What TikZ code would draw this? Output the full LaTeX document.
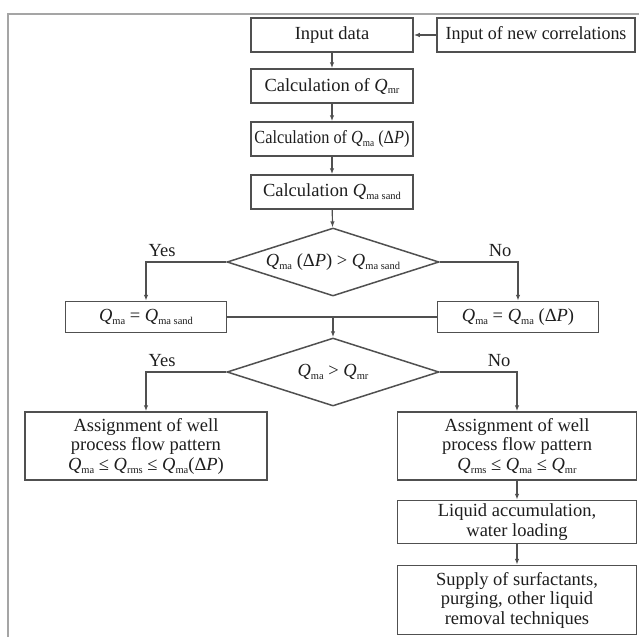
\documentclass[tikz,border=0pt]{standalone}
\usepackage{fontspec}
\setmainfont{Liberation Serif}
\usepackage{xcolor}
\usepackage{graphicx}
\usetikzlibrary{shapes.geometric, arrows.meta, positioning}

\definecolor{linegray}{RGB}{80,80,80}
\definecolor{framegray}{RGB}{165,165,165}
\definecolor{textgray}{RGB}{30,30,30}
\newcommand{\Qs}[1]{\textit{Q}\raisebox{-0.35ex}{\fontsize{10.5}{11}\selectfont #1}}

\begin{document}
\begin{tikzpicture}[x=1pt, y=-1pt,
    box/.style={draw=linegray, line width=1.5pt, fill=white, text=textgray, inner sep=2pt, align=center, font=\fontsize{18.5}{19.5}\selectfont},
    decision/.style={diamond, draw=linegray, line width=1.5pt, aspect=3.1, minimum width=212pt, minimum height=68pt, inner sep=0pt, text=textgray, font=\fontsize{18.5}{19.5}\selectfont},
    flow/.style={-{Latex[length=6pt, width=4.5pt]}, draw=linegray, line width=1.2pt},
    lbl/.style={text=textgray, font=\fontsize{18.5}{19.5}\selectfont, inner sep=2pt}]
    \useasboundingbox (0,0) rectangle (639,637);

    % Frame
    \draw[framegray, line width=2pt] (8,637) -- (8,14) -- (639,14);

    % Calculation steps
    \node[box, minimum width=162pt, minimum height=34pt] (input) at (332,35) {Input data};
    \node[box, minimum width=198pt, minimum height=34pt] (corr) at (536,35) {\scalebox{0.97}[1]{Input of new correlations}};
    \node[box, minimum width=162pt, minimum height=34pt] (qmr) at (332,86) {Calculation of \Qs{mr}};
    \node[box, minimum width=162pt, minimum height=34pt] (qdp) at (332,139) {\scalebox{0.88}[1]{Calculation of \Qs{ma} (Δ\textit{P})}};
    \node[box, minimum width=162pt, minimum height=34pt] (qsand) at (332,192) {Calculation \Qs{ma sand}};

    % Decisions and results
    \node[decision] (d1) at (333,262) {\Qs{ma} (Δ\textit{P}) > \Qs{ma sand}};
    \node[box, minimum width=161pt, minimum height=31pt] (eqsand) at (146,317) {\Qs{ma} = \Qs{ma sand}};
    \node[box, minimum width=161pt, minimum height=31pt] (eqdp) at (518,317) {\Qs{ma} = \Qs{ma} (Δ\textit{P})};
    \node[decision] (d2) at (333,372) {\Qs{ma} > \Qs{mr}};

    \node[box, minimum width=242pt, minimum height=68pt] (assignL) at (146,446)
        {Assignment of well\\process flow pattern\\\Qs{ma} ≤ \Qs{rms} ≤ \Qs{ma}(Δ\textit{P})};
    \node[box, minimum width=239pt, minimum height=68pt] (assignR) at (517,446)
        {Assignment of well\\process flow pattern\\\Qs{rms} ≤ \Qs{ma} ≤ \Qs{mr}};
    \node[box, minimum width=239pt, minimum height=43pt] (liquid) at (517,522)
        {Liquid accumulation,\\water loading};
    \node[box, minimum width=239pt, minimum height=69pt] (supply) at (517,600)
        {Supply of surfactants,\\purging, other liquid\\removal techniques};

    % Arrows
    \draw[flow] (corr) -- (input);
    \draw[flow] (input) -- (qmr);
    \draw[flow] (qmr) -- (qdp);
    \draw[flow] (qdp) -- (qsand);
    \draw[flow] (qsand) -- (d1);
    \draw[flow] (d1.west) -| node[lbl, pos=0.5, anchor=south west, yshift=3pt] {Yes} (eqsand);
    \draw[flow] (d1.east) -| node[lbl, pos=0.5, anchor=south east, xshift=-4pt, yshift=3pt] {No} (eqdp);
    \draw[linegray, line width=1.2pt] (eqsand) -- (eqdp);
    \coordinate (merge) at (d2.north |- eqsand);
    \draw[flow] (merge) -- (d2);
    \draw[flow] (d2.west) -| node[lbl, pos=0.5, anchor=south west, yshift=3pt] {Yes} (assignL);
    \draw[flow] (d2.east) -| node[lbl, pos=0.5, anchor=south east, xshift=-4pt, yshift=3pt] {No} (assignR);
    \draw[flow] (assignR) -- (liquid);
    \draw[flow] (liquid) -- (supply);
\end{tikzpicture}
\end{document}
